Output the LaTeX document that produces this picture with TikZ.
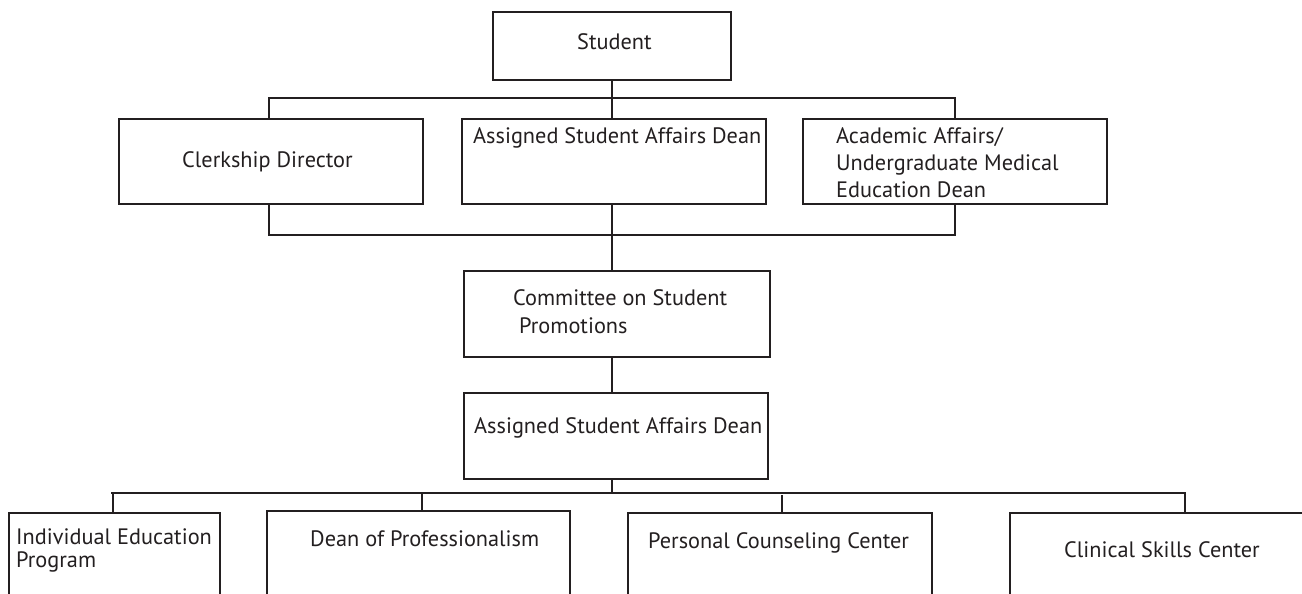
\documentclass[tikz,border=0pt]{standalone}
\usepackage{fontspec}
\setmainfont{PT Sans}
\definecolor{ink}{HTML}{231F20}
\begin{document}
\begin{tikzpicture}[x=1pt,y=-1pt,
  box/.style={draw=ink,line width=1.4pt,rectangle,inner sep=0pt},
  conn/.style={draw=ink,line width=1.4pt},
  lbl/.style={anchor=base west,inner sep=0pt,text=ink,font=\fontsize{22.3}{27}\selectfont}]
\useasboundingbox (0,0) rectangle (1302,594);
\clip (0,0) rectangle (1302,594);
% boxes
\node[box,minimum width=238pt,minimum height=68pt] (student) at (612,46) {};
\node[box,minimum width=304pt,minimum height=85pt] (clerk) at (271,161.5) {};
\node[box,minimum width=304pt,minimum height=85pt] (asd1) at (614,161.5) {};
\node[box,minimum width=304pt,minimum height=85pt] (acad) at (955,161.5) {};
\node[box,minimum width=306pt,minimum height=86pt] (cosp) at (617,314) {};
\node[box,minimum width=304pt,minimum height=86pt] (asd2) at (616,436) {};
\node[box,minimum width=211pt,minimum height=117pt] (iep) at (114.5,571.5) {};
\node[box,minimum width=303pt,minimum height=119pt] (dop) at (418.5,570.5) {};
\node[box,minimum width=304pt,minimum height=117pt] (pcc) at (780,571.5) {};
\node[box,minimum width=304pt,minimum height=117pt] (csc) at (1162,571.5) {};
% texts
\node[lbl] (tstudent) at (577,50) {Student};
\node[lbl] (tclerk) at (182,167) {Clerkship Director};
\node[lbl] (tasd1) at (473,143) {Assigned Student Affairs Dean};
\node[lbl] (tacad1) at (836,143) {Academic Affairs/};
\node[lbl] (tacad2) at (836,170) {Undergraduate Medical};
\node[lbl] (tacad3) at (836,197) {Education Dean};
\node[lbl] (tcosp1) at (513,305) {Committee on Student};
\node[lbl] (tcosp2) at (519,333) {Promotions};
\node[lbl] (tasd2) at (474,433) {Assigned Student Affairs Dean};
\node[lbl] (tiep1) at (16,544) {Individual Education};
\node[lbl] (tiep2) at (16,567) {Program};
\node[lbl] (tdop) at (310,546) {Dean of Professionalism};
\node[lbl] (tpcc) at (648,548) {Personal Counseling Center};
\node[lbl] (tcsc) at (1064,557) {Clinical Skills Center};
% connectors
\coordinate (tl) at (269,98);
\coordinate (tr) at (955,98);
\coordinate (ml) at (269,235);
\coordinate (mr) at (955,235);
\coordinate (bl) at (111,493);
\coordinate (br) at (1186,493);
\coordinate (d1) at (113,493);
\coordinate (d2) at (422,493);
\coordinate (d3) at (782,495);
\coordinate (d4) at (1185,493);
\draw[conn] (student.south) -- (student.south |- asd1.north);
\draw[conn] (clerk.north -| tl) -- (tl) -- (tr) -- (acad.north -| tr);
\draw[conn] (clerk.south -| ml) -- (ml) -- (mr) -- (acad.south -| mr);
\draw[conn] (asd1.south -| student.south) -- (cosp.north -| student.south);
\draw[conn] (cosp.south -| student.south) -- (asd2.north -| student.south);
\draw[conn] (asd2.south -| student.south) -- (student.south |- bl);
\draw[conn] (bl) -- (br);
\draw[conn] (d1) -- (iep.north -| d1);
\draw[conn] (d2) -- (dop.north -| d2);
\draw[conn] (d3) -- (pcc.north -| d3);
\draw[conn] (d4) -- (csc.north -| d4);
\end{tikzpicture}
\end{document}
